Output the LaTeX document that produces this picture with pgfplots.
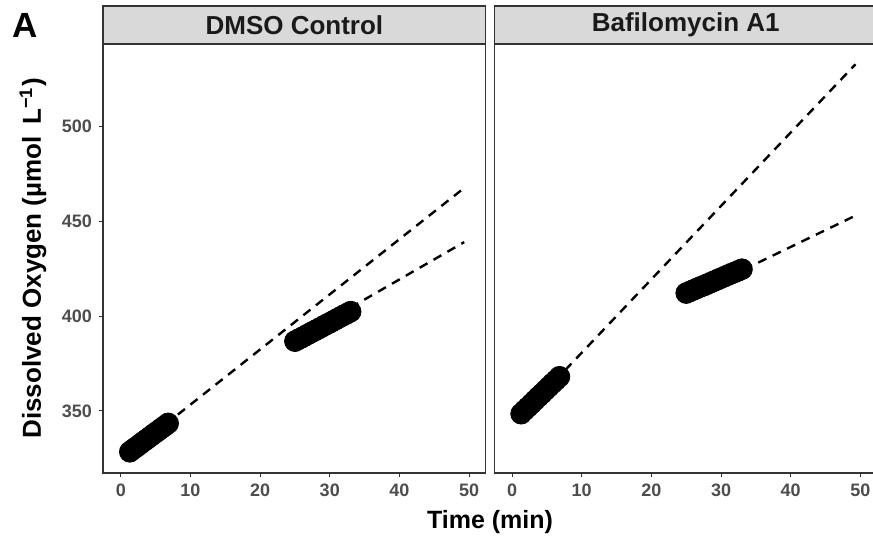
\documentclass[border=0pt]{standalone}
\usepackage{pgfplots}
\pgfplotsset{compat=1.18}
\usepackage{fontspec}
\setmainfont{Liberation Sans}
\definecolor{grey10}{HTML}{1A1A1A}
\definecolor{grey20}{HTML}{333333}
\definecolor{grey30}{HTML}{4D4D4D}
\definecolor{grey85}{HTML}{D9D9D9}
\pgfplotsset{
  panel/.style={
    scale only axis, width=191.4pt, height=214.5pt,
    anchor=south west,
    xmin=-2.55, xmax=52.4, ymin=317.2, ymax=543.7,
    xtick={0,10,...,50}, ytick={350,400,450,500},
    tick align=outside, xtick pos=lower, ytick pos=lower,
    major tick length=2pt,
    axis line style={grey20, line width=0.6pt},
    every tick/.style={grey20, line width=0.5pt},
    tick label style={font=\fontsize{9}{10}\selectfont\bfseries, text=grey30},
    /pgf/number format/assume math mode=true,
  },
  fitline/.style={black, line width=1.2pt, dash pattern=on 4.5pt off 3.5pt},
  pts/.style={only marks, mark=*, mark size=5.2pt, black},
}
\newcommand{\strip}[2]{%
  \draw[fill=grey85, draw=grey20, line width=0.6pt]
    (#1.north west) rectangle ([yshift=19pt]#1.north east);
  \node[text=grey10] at ([yshift=9.5pt]#1.north)
    {\fontsize{13}{15}\selectfont\bfseries #2};}
\begin{document}
\begin{tikzpicture}
% DMSO control
\begin{axis}[panel, name=L, at={(51.5pt,34pt)}]
\addplot[fitline] coordinates {(1,327.1) (49.3,467.7)};
\addplot[fitline] coordinates {(25,387.6) (49.3,439.1)};
\addplot[pts] coordinates {
  (1.3,328.4) (1.8,329.8) (2.3,331.1) (2.8,332.5) (3.3,333.9) (3.8,335.2)
  (4.3,336.6) (4.8,338.0) (5.3,339.3) (5.8,340.7) (6.3,342.0) (6.8,343.4)};
\addplot[pts] coordinates {
  (25,386.8) (25.5,387.8) (26,388.7) (26.5,389.7) (27,390.7) (27.5,391.7)
  (28,392.6) (28.5,393.6) (29,394.6) (29.5,395.6) (30,396.5) (30.5,397.5)
  (31,398.5) (31.5,399.5) (32,400.5) (32.5,401.4) (33,402.4)};
\end{axis}
% Bafilomycin A1
\begin{axis}[panel, name=R, at={(247.15pt,34pt)}, ytick=\empty]
\addplot[fitline] coordinates {(1.3,347.0) (49.3,533.0)};
\addplot[fitline] coordinates {(25,409.9) (49.3,453.1)};
\addplot[pts] coordinates {
  (1.3,348.5) (1.8,350.3) (2.3,352.0) (2.8,353.8) (3.3,355.6) (3.8,357.4)
  (4.3,359.1) (4.8,360.9) (5.3,362.7) (5.8,364.5) (6.3,366.2) (6.8,368.0)};
\addplot[pts] coordinates {
  (25,412.2) (25.5,413.0) (26,413.8) (26.5,414.6) (27,415.4) (27.5,416.1)
  (28,416.9) (28.5,417.7) (29,418.5) (29.5,419.3) (30,420.1) (30.5,420.9)
  (31,421.7) (31.5,422.5) (32,423.2) (32.5,424.0) (33,424.8)};
\end{axis}
\strip{L}{DMSO Control}
\strip{R}{Bafilomycin A1}
\node at (12.75pt,257.6pt) {\fontsize{17.5}{20}\selectfont\bfseries A};
\node[rotate=90] at (16.5pt,141.25pt)
  {\fontsize{13}{15}\selectfont\bfseries Dissolved Oxygen (µmol\, L\textsuperscript{−1})};
\node at (245pt,9.6pt) {\fontsize{12.5}{15}\selectfont\bfseries Time (min)};
\pgfresetboundingbox
\path (0,0) rectangle (436.5pt,270.5pt);
\end{tikzpicture}
\end{document}
